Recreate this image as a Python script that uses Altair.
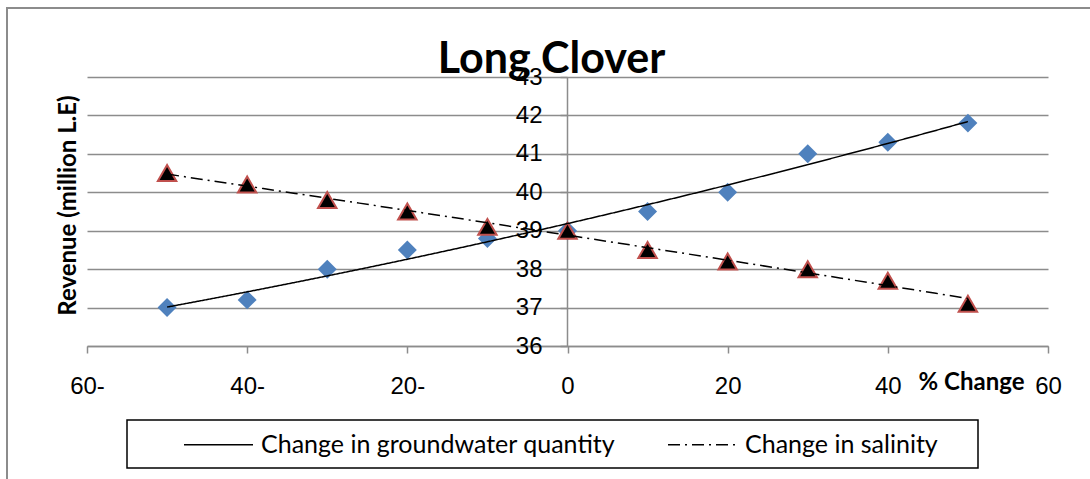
import altair as alt
import pandas as pd

# ---- data ----
pct = [-50, -40, -30, -20, -10, 0, 10, 20, 30, 40, 50]
groundwater = [37.0, 37.2, 38.0, 38.5, 38.8, 39.0, 39.5, 40.0, 41.0, 41.3, 41.8]
salinity = [40.5, 40.2, 39.8, 39.5, 39.1, 39.0, 38.5, 38.2, 38.0, 37.7, 37.1]
series_names = ["Change in groundwater quantity", "Change in salinity"]
x_ticks = [-60, -40, -20, 0, 20, 40, 60]
y_ticks = [36, 37, 38, 39, 40, 41, 42, 43]

df = pd.DataFrame({
    "pct": pct + pct,
    "value": groundwater + salinity,
    "series": [series_names[0]] * len(pct) + [series_names[1]] * len(pct),
})

GRID = "#8c8c8c"

x_enc = alt.X(
    "pct:Q",
    scale=alt.Scale(domain=[-60, 60], nice=False, zero=False),
    axis=alt.Axis(
        values=x_ticks,
        labelExpr="datum.value < 0 ? abs(datum.value) + '-' : datum.value + ''",
        labelFont="Liberation Sans", labelFontSize=24, labelColor="black",
        labelPadding=21, labelFlush=False,
        tickSize=7, tickColor=GRID, tickWidth=1.5,
        domainColor=GRID, domainWidth=1.5, grid=False,
        title="% Change", titleX=884, titleY=36,
        titleFont="Lato", titleFontSize=24, titleFontWeight="bold", titleColor="black",
        titleAlign="center", titleBaseline="middle",
    ),
)

y_enc = alt.Y(
    "value:Q",
    scale=alt.Scale(domain=[36, 43], nice=False, zero=False),
    axis=alt.Axis(
        values=y_ticks, offset=-480,
        grid=True, gridColor=GRID, gridWidth=1.5,
        domainColor=GRID, domainWidth=1.5,
        tickSize=7, tickColor=GRID, tickWidth=1.5,
        labelFont="Liberation Sans", labelFontSize=24, labelColor="black",
        labelPadding=18,
        title="Revenue (million L.E)", titleX=-499, titleY=128, titleAngle=270,
        titleFont="Lato", titleFontSize=24, titleFontWeight="bold", titleColor="black",
        titleAlign="center", titleBaseline="middle",
    ),
)

one = pd.DataFrame({"a": [0]})

frame = alt.Chart(one).mark_rect(fillOpacity=0, stroke=GRID, strokeWidth=2).encode(
    x=alt.value(-80), x2=alt.value(1013), y=alt.value(-69), y2=alt.value(413)
)

legend_box = alt.Chart(one).mark_rect(fillOpacity=0, stroke="black", strokeWidth=1.5).encode(
    x=alt.value(40), x2=alt.value(891), y=alt.value(343), y2=alt.value(391)
)

gw_points = alt.Chart(df).transform_filter(
    alt.datum.series == series_names[0]
).mark_point(shape="diamond", filled=True, size=360, color="#4F81BD", opacity=1).encode(
    x=x_enc, y=y_enc
)

sal_points = alt.Chart(df).transform_filter(
    alt.datum.series == series_names[1]
).mark_point(shape="triangle-up", filled=True, size=340, fill="black",
             stroke="#C0504D", strokeWidth=2, opacity=1).encode(
    x=x_enc, y=y_enc
)

trend = alt.Chart(df).transform_regression(
    "pct", "value", groupby=["series"], method="poly", order=2, extent=[-50, 50]
).mark_line(color="black", strokeWidth=1.5).encode(
    x=x_enc, y=y_enc,
    strokeDash=alt.StrokeDash(
        "series:N",
        scale=alt.Scale(domain=series_names, range=[[1, 0], [12, 5, 2, 5]]),
        legend=alt.Legend(
            orient="none", legendX=96, legendY=332, direction="horizontal",
            title=None, padding=0, columnPadding=49,
            symbolType="stroke", symbolSize=4761, symbolStrokeColor="black",
            symbolStrokeWidth=1.5,
            labelFont="Lato", labelFontSize=25, labelColor="black", labelOffset=7,
            labelLimit=600, labelBaseline="middle",
        ),
    ),
)

chart = alt.layer(frame, legend_box, gw_points, sal_points, trend).properties(
    width=961,
    height=269,
    title=alt.TitleParams(
        "Long Clover", font="Lato", fontSize=43, fontWeight="bold", color="black",
        anchor="middle", frame="group", baseline="alphabetic", offset=0, dx=-16, dy=109,
    ),
    autosize=alt.AutoSizeParams(type="none"),
    padding={"left": 87, "top": 77, "right": 42, "bottom": 133},
    background="white",
).configure_view(stroke=None)

chart.save("out.html", embed_options={"renderer": "svg", "actions": False})
